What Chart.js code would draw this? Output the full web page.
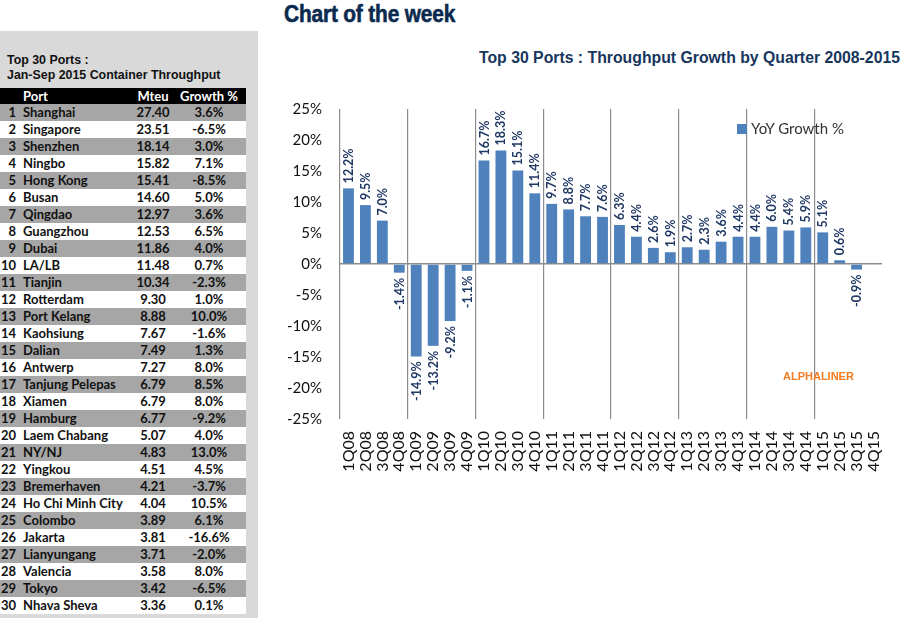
<!DOCTYPE html>
<html>
<head>
<meta charset="utf-8">
<script src="https://cdn.jsdelivr.net/npm/chart.js@4"></script>
<style>
  html,body{margin:0;padding:0;background:#fff;width:905px;height:618px;overflow:hidden;position:relative;font-family:Lato,"Open Sans",sans-serif;}
  #panel{position:absolute;left:0;top:31px;width:258px;height:587px;background:#d9d9d9;}
  #ptitle{position:absolute;left:7px;top:53px;font:bold 12.4px "Liberation Sans",Arial,sans-serif;line-height:15px;color:#111;}
  #tbl{position:absolute;left:0;top:88px;width:246px;border-collapse:collapse;table-layout:fixed;font:bold 13px Lato,sans-serif;color:#111;}
  #tbl td{height:17px;padding:0;line-height:17px;white-space:nowrap;overflow:visible;}
  #tbl tr.h td{background:#000;color:#fff;height:16px;line-height:16px;}
  #tbl tr.g td{background:#a6a6a6;}
  #tbl tr.w td{background:#fff;}
  #tbl td.c0{width:16px;text-align:right;}
  #tbl td.c1{width:103px;padding-left:7px;}
  #tbl td.c2{width:54px;text-align:center;}
  #tbl td.c3{width:58px;text-align:center;padding-right:8px;}
  #cow{position:absolute;left:284px;top:0px;font:bold 24px "Liberation Sans",Arial,sans-serif;color:#0b2a4f;transform:scaleX(0.87);transform-origin:0 0;letter-spacing:-0.2px;-webkit-text-stroke:0.6px #0b2a4f;}
  #ctitle{position:absolute;right:5px;top:49px;font:bold 15.8px "Liberation Sans",Arial,sans-serif;color:#17365d;}
  #legend{position:absolute;left:737px;top:119px;font:15px Lato,sans-serif;color:#333;}
  #legend span.sw{display:inline-block;width:10px;height:10px;background:#4f81bd;margin-right:4px;vertical-align:0px;}
  #wm{position:absolute;left:783px;top:370px;font:bold 11px "Liberation Sans",Arial,sans-serif;color:#f47b20;}
</style>
</head>
<body>
<div id="panel"></div>
<div id="ptitle">Top 30 Ports :<br>Jan-Sep 2015 Container Throughput</div>
<table id="tbl"></table>
<div id="cow">Chart of the week</div>
<div id="ctitle">Top 30 Ports : Throughput Growth by Quarter 2008-2015</div>
<div style="position:absolute;left:260px;top:90px;width:645px;height:400px;"><canvas id="cv" width="645" height="400"></canvas></div>
<div id="legend"><span class="sw"></span>YoY Growth %</div>
<div id="wm">ALPHALINER</div>
<script>
// ---- Data ----
const quarters = ["1Q08","2Q08","3Q08","4Q08","1Q09","2Q09","3Q09","4Q09","1Q10","2Q10","3Q10","4Q10","1Q11","2Q11","3Q11","4Q11","1Q12","2Q12","3Q12","4Q12","1Q13","2Q13","3Q13","4Q13","1Q14","2Q14","3Q14","4Q14","1Q15","2Q15","3Q15","4Q15"];
const yoyGrowth = [12.2,9.5,7.0,-1.4,-14.9,-13.2,-9.2,-1.1,16.7,18.3,15.1,11.4,9.7,8.8,7.7,7.6,6.3,4.4,2.6,1.9,2.7,2.3,3.6,4.4,4.4,6.0,5.4,5.9,5.1,0.6,-0.9,null];
const yTicks = [-25,-20,-15,-10,-5,0,5,10,15,20,25];

const portNames = ["Shanghai","Singapore","Shenzhen","Ningbo","Hong Kong","Busan","Qingdao","Guangzhou","Dubai","LA/LB","Tianjin","Rotterdam","Port Kelang","Kaohsiung","Dalian","Antwerp","Tanjung Pelepas","Xiamen","Hamburg","Laem Chabang","NY/NJ","Yingkou","Bremerhaven","Ho Chi Minh City","Colombo","Jakarta","Lianyungang","Valencia","Tokyo","Nhava Sheva"];
const portMteu = ["27.40","23.51","18.14","15.82","15.41","14.60","12.97","12.53","11.86","11.48","10.34","9.30","8.88","7.67","7.49","7.27","6.79","6.79","6.77","5.07","4.83","4.51","4.21","4.04","3.89","3.81","3.71","3.58","3.42","3.36"];
const portGrowth = ["3.6%","-6.5%","3.0%","7.1%","-8.5%","5.0%","3.6%","6.5%","4.0%","0.7%","-2.3%","1.0%","10.0%","-1.6%","1.3%","8.0%","8.5%","8.0%","-9.2%","4.0%","13.0%","4.5%","-3.7%","10.5%","6.1%","-16.6%","-2.0%","8.0%","-6.5%","0.1%"];

// ---- Table ----
(function(){
  const t = document.getElementById('tbl');
  let html = '<tr class="h"><td class="c0"></td><td class="c1">Port</td><td class="c2">Mteu</td><td class="c3">Growth %</td></tr>';
  portNames.forEach((n,i)=>{
    html += '<tr class="'+(i%2===0?'g':'w')+'"><td class="c0">'+(i+1)+'</td><td class="c1">'+n+'</td><td class="c2">'+portMteu[i]+'</td><td class="c3">'+portGrowth[i]+'</td></tr>';
  });
  t.innerHTML = html;
})();

// ---- Chart ----
const valueLabels = {
  id:'valueLabels',
  afterDatasetsDraw(chart){
    const ctx = chart.ctx;
    const meta = chart.getDatasetMeta(0);
    ctx.save();
    ctx.font = 'bold 12.5px Lato, sans-serif';
    ctx.fillStyle = '#1f3864';
    ctx.textBaseline = 'middle';
    meta.data.forEach((bar,i)=>{
      const v = yoyGrowth[i];
      if (v === null || v === undefined) return;
      ctx.save();
      ctx.translate(bar.x + 0.5, v >= 0 ? bar.y - 5 : bar.y + 5);
      ctx.rotate(-Math.PI/2);
      ctx.textAlign = v >= 0 ? 'left' : 'right';
      ctx.fillText(v.toFixed(1) + '%', 0, 0);
      ctx.restore();
    });
    ctx.restore();
  }
};

new Chart(document.getElementById('cv'), {
  type:'bar',
  data:{
    labels: quarters,
    datasets:[{
      label:'YoY Growth %',
      data: yoyGrowth,
      backgroundColor:'#4f81bd',
      borderWidth:0,
      barPercentage:0.64,
      categoryPercentage:1.0
    }]
  },
  options:{
    responsive:false,
    animation:false,
    devicePixelRatio:1,
    layout:{padding:{top:19,right:17,bottom:0,left:0}},
    plugins:{legend:{display:false},tooltip:{enabled:false}},
    scales:{
      x:{
        offset:true,
        border:{display:false},
        grid:{
          offset:true,
          drawTicks:false,
          color:(c)=> (c.index % 4 === 0) ? '#8c8c8c' : 'rgba(0,0,0,0)',
          lineWidth:1.2
        },
        ticks:{
          autoSkip:false,
          maxRotation:90,
          minRotation:90,
          padding:12,
          color:'#111',
          font:{family:'Lato, sans-serif', size:16}
        },
        afterFit:(s)=>{ s.height = 71; }
      },
      y:{
        min:-25, max:25,
        border:{display:false},
        afterBuildTicks:(s)=>{ s.ticks = yTicks.map(v=>({value:v})); },
        grid:{
          drawTicks:true,
          tickLength:18,
          tickColor:'rgba(0,0,0,0)',
          color:(c)=> (c.tick && c.tick.value === 0) ? '#8c8c8c' : 'rgba(0,0,0,0)',
          lineWidth:1.5
        },
        ticks:{
          padding:0,
          color:'#111',
          font:{family:'Lato, sans-serif', size:15},
          callback:(v)=> v + '%'
        },
        afterFit:(s)=>{ s.width = 80; }
      }
    }
  },
  plugins:[valueLabels]
});
</script>
</body>
</html>
